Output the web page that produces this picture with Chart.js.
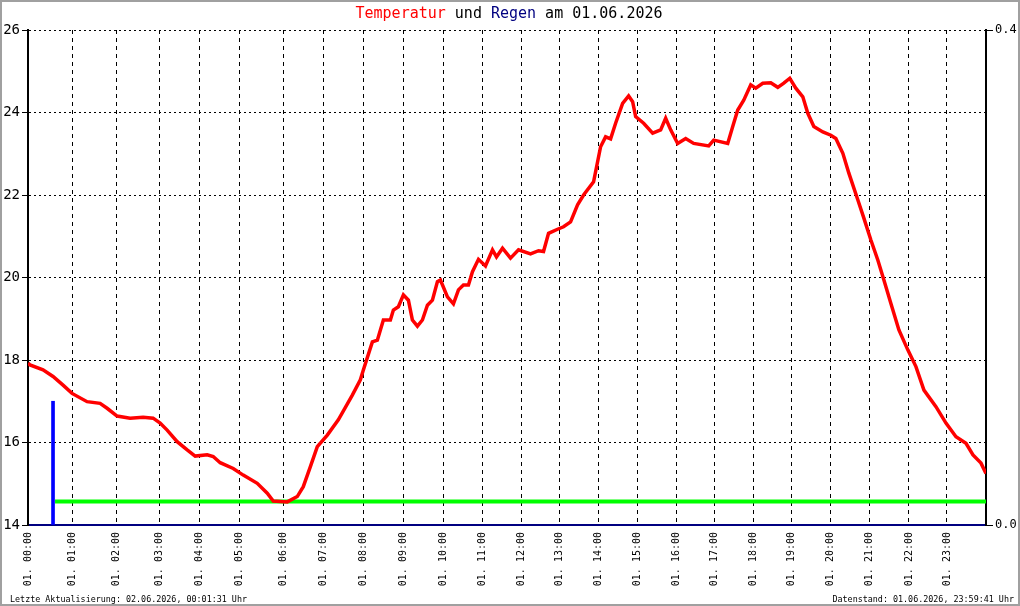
<!DOCTYPE html>
<html>
<head>
<meta charset="utf-8">
<script src="https://cdn.jsdelivr.net/npm/chart.js@4/dist/chart.umd.min.js"></script>
<style>
  html, body { margin:0; padding:0; background:#fff; }
  canvas { display:block; }
</style>
</head>
<body>
<canvas id="c" width="1020" height="606"></canvas>
<script>
/* ── DATA: x axis = Messpunkt-Index (0 … 957) ─────────────── */
const hourIdx    = [0, 44, 88, 131, 171, 211, 255, 295, 335, 375, 415, 454,
                    493, 531, 570, 609, 648, 686, 725, 763, 802, 841, 880, 918];
const hourLabels = ['00:00','01:00','02:00','03:00','04:00','05:00','06:00','07:00',
                    '08:00','09:00','10:00','11:00','12:00','13:00','14:00','15:00',
                    '16:00','17:00','18:00','19:00','20:00','21:00','22:00','23:00'];
const lastIdx = 957;

// Temperatur °C
const tempIdx = [0, 2, 15, 25, 35, 44, 59, 72, 79, 89, 102, 115, 125, 132, 139, 149,
  159, 167, 179, 185, 192, 205, 215, 229, 239, 245, 259, 269, 275, 282, 289, 299,
  310, 324, 332, 335, 344, 349, 355, 362, 365, 370, 375, 380, 384, 389, 394, 399,
  404, 409, 412, 419, 425, 430, 435, 440, 444, 450, 457, 464, 468, 474, 482, 490,
  502, 510, 515, 520, 529, 535, 542, 549, 555, 565, 572, 577, 582, 587, 594, 600,
  604, 607, 615, 624, 632, 637, 642, 649, 657, 665, 680, 685, 699, 704, 709, 715,
  722, 727, 734, 742, 749, 755, 761, 767, 774, 779, 785, 794, 802, 807, 814, 820,
  829, 835, 842, 849, 855, 862, 870, 879, 887, 895, 907, 917, 927, 937, 944, 952, 957];
const tempVal = [17.93, 17.88, 17.76, 17.60, 17.39, 17.19, 16.99, 16.95, 16.83, 16.64, 16.59, 16.61, 16.59, 16.47, 16.30, 16.02,
  15.82, 15.67, 15.70, 15.66, 15.51, 15.37, 15.21, 15.01, 14.77, 14.58, 14.56, 14.69, 14.93, 15.41, 15.90, 16.18,
  16.55, 17.15, 17.52, 17.76, 18.44, 18.48, 18.97, 18.97, 19.21, 19.29, 19.58, 19.45, 18.97, 18.82, 18.97, 19.33,
  19.45, 19.90, 19.94, 19.53, 19.36, 19.70, 19.82, 19.82, 20.14, 20.44, 20.28, 20.67, 20.50, 20.71, 20.47, 20.67,
  20.57, 20.65, 20.63, 21.07, 21.17, 21.23, 21.35, 21.76, 22.00, 22.32, 23.17, 23.41, 23.36, 23.74, 24.22, 24.40,
  24.26, 23.90, 23.74, 23.50, 23.58, 23.86, 23.58, 23.25, 23.37, 23.25, 23.19, 23.33, 23.25, 23.66, 24.06, 24.30,
  24.67, 24.59, 24.71, 24.72, 24.61, 24.71, 24.83, 24.59, 24.38, 23.98, 23.66, 23.53, 23.45, 23.37, 23.01, 22.53,
  21.88, 21.44, 20.91, 20.42, 19.94, 19.37, 18.73, 18.24, 17.84, 17.27, 16.87, 16.47, 16.14, 15.98, 15.70, 15.50, 15.25];

// Regen mm (rechte Achse)
const rainIdx = [25];
const rainVal = [0.1];

// grüne Linie (rechte Achse)
const greenIdx = [27, 957];
const greenVal = [0.019, 0.019];

const MONO = '"DejaVu Sans Mono", "Liberation Mono", monospace';

/* ── TITLE / FOOTER / FRAME ───────────────────────────────── */
const decoPlugin = {
  id: 'deco',
  afterDraw(chart) {
    const ctx = chart.ctx;
    ctx.save();
    // Titel mit farbigen Teilen
    const parts = [['Temperatur', '#ff0000'], [' und ', '#000000'],
                   ['Regen', '#000080'], [' am 01.06.2026', '#000000']];
    ctx.font = '15px ' + MONO;
    ctx.textBaseline = 'middle';
    ctx.textAlign = 'left';
    const total = parts.reduce((s, p) => s + ctx.measureText(p[0]).width, 0);
    let x = 509 - total / 2;
    parts.forEach(p => {
      ctx.fillStyle = p[1];
      ctx.fillText(p[0], x, 14);
      x += ctx.measureText(p[0]).width;
    });
    // Fußzeilen
    ctx.font = '8.4px ' + MONO;
    ctx.fillStyle = '#000';
    ctx.textBaseline = 'alphabetic';
    ctx.fillText('Letzte Aktualisierung: 02.06.2026, 00:01:31 Uhr', 10, 602);
    ctx.textAlign = 'right';
    ctx.fillText('Datenstand: 01.06.2026, 23:59:41 Uhr', 1014, 602);
    // Rahmen
    ctx.strokeStyle = '#a0a0a0';
    ctx.lineWidth = 2;
    ctx.strokeRect(1, 1, 1018, 604);
    ctx.restore();
  }
};

new Chart(document.getElementById('c').getContext('2d'), {
  data: {
    datasets: [
      {
        type: 'line', label: 'Temperatur', yAxisID: 'y',
        data: tempIdx.map((v, i) => ({ x: v, y: tempVal[i] })),
        borderColor: '#ff0000', borderWidth: 3.5, pointRadius: 0, tension: 0,
      },
      {
        type: 'line', label: 'Linie', yAxisID: 'y2',
        data: greenIdx.map((v, i) => ({ x: v, y: greenVal[i] })),
        borderColor: '#00ff00', borderWidth: 4, pointRadius: 0,
      },
      {
        type: 'bar', label: 'Regen', yAxisID: 'y2',
        data: rainIdx.map((v, i) => ({ x: v, y: rainVal[i] })),
        backgroundColor: '#0000ff', barThickness: 3,
      },
    ],
  },
  options: {
    responsive: false, animation: false,
    layout: { padding: { top: 30, left: 0, right: 0, bottom: 0 } },
    plugins: { legend: { display: false }, tooltip: { enabled: false }, title: { display: false } },
    scales: {
      x: {
        type: 'linear', min: 0, max: lastIdx, offset: false,
        afterFit: s => { s.height = 81; },
        afterBuildTicks: s => { s.ticks = hourIdx.map(v => ({ value: v })); },
        grid: { color: '#000', lineWidth: 1, drawTicks: false, offset: false, borderDash: [4, 4] },
        border: { color: '#000080', width: 2, dash: [4, 4] },
        ticks: {
          autoSkip: false, minRotation: 90, maxRotation: 90, padding: 7,
          color: '#000', font: { family: MONO, size: 10 },
          callback: v => '01. ' + hourLabels[hourIdx.indexOf(v)],
        },
      },
      y: {
        position: 'left', min: 14, max: 26,
        afterFit: s => { s.width = 28; },
        grid: { color: '#000', lineWidth: 1, borderDash: [2, 3], tickLength: 6,
                tickColor: '#000', tickBorderDash: [] },
        border: { color: '#000', width: 2, dash: [2, 3] },
        ticks: { stepSize: 2, padding: 2, color: '#000', font: { family: MONO, size: 14 } },
      },
      y2: {
        position: 'right', min: 0, max: 0.4,
        afterFit: s => { s.width = 34; },
        grid: { drawOnChartArea: false, tickLength: 7, tickColor: '#000', tickBorderDash: [] },
        border: { color: '#000', width: 2 },
        ticks: { stepSize: 0.4, padding: 2, color: '#000', font: { family: MONO, size: 12 },
                 callback: v => v.toFixed(1) },
      },
    },
  },
  plugins: [decoPlugin],
});
</script>
</body>
</html>
